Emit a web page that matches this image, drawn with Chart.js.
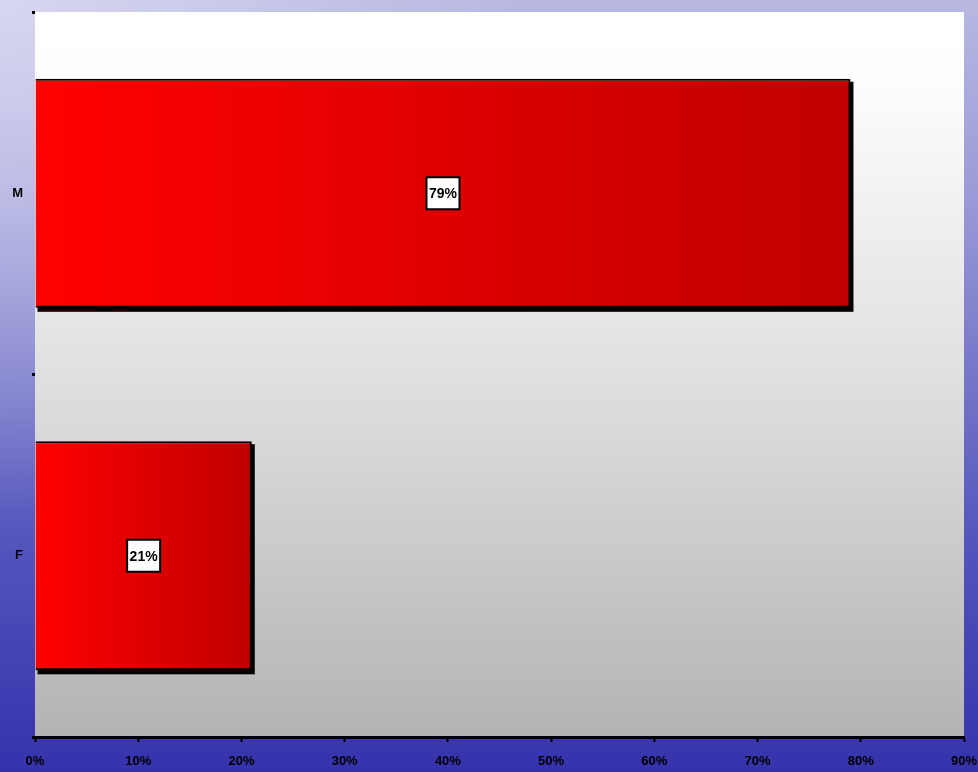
<!DOCTYPE html>
<html>
<head>
<meta charset="utf-8">
<title>M / F</title>
<script src="https://cdn.jsdelivr.net/npm/chart.js@4/dist/chart.umd.min.js"></script>
<style>
  html, body { margin: 0; padding: 0; }
  body {
    width: 978px; height: 772px; overflow: hidden;
    background:
      radial-gradient(ellipse 520px 520px at 0px 0px, rgba(225,225,245,0.75), rgba(225,225,245,0) 100%),
      linear-gradient(180deg, #b8b8e2 0%, #9b9bd8 25%, #7474c8 50%, #5252bc 72%, #3632ac 100%);
  }
  #wrap { position: absolute; left: 0; top: 0; width: 978px; height: 772px; }
</style>
</head>
<body>
<div id="wrap"><canvas id="chart" width="978" height="772"></canvas></div>
<script>
// Share of respondents by sex
const categories = ['M', 'F'];
const shares = [79, 21];
const tickValues = [0, 10, 20, 30, 40, 50, 60, 70, 80, 90];

const fontFamily = "'Liberation Sans Narrow', 'Liberation Sans', Arial, sans-serif";
const labelFont = "bold 14px " + fontFamily;

// Plot area background: white at the top fading to grey at the bottom
const plotBackground = {
  id: 'plotBackground',
  beforeDraw(chart) {
    const { ctx, chartArea: a } = chart;
    const g = ctx.createLinearGradient(0, a.top, 0, a.bottom);
    g.addColorStop(0, '#ffffff');
    g.addColorStop(0.08, '#fefefe');
    g.addColorStop(0.5, '#e0e0e0');
    g.addColorStop(1, '#b3b3b3');
    ctx.save();
    ctx.fillStyle = g;
    ctx.fillRect(a.left, a.top, a.right - a.left, a.bottom - a.top);
    ctx.restore();
  }
};

// Hard black drop shadow offset to the lower right of each bar
const barShadow = {
  id: 'barShadow',
  beforeDatasetsDraw(chart) {
    const ctx = chart.ctx;
    const meta = chart.getDatasetMeta(0);
    ctx.save();
    ctx.fillStyle = '#000000';
    meta.data.forEach(bar => {
      const top = bar.y - bar.height / 2;
      ctx.fillRect(bar.base + 2, top + 3, bar.x - bar.base + 1, bar.height + 1);
    });
    ctx.restore();
  }
};

// Value labels in white boxes at the centre of each bar
const valueBoxes = {
  id: 'valueBoxes',
  afterDatasetsDraw(chart) {
    const { ctx } = chart;
    const meta = chart.getDatasetMeta(0);
    ctx.save();
    ctx.font = labelFont;
    ctx.textAlign = 'center';
    ctx.textBaseline = 'middle';
    meta.data.forEach((bar, i) => {
      const cx = (bar.base + bar.x) / 2;
      const cy = bar.y;
      const w = 33, h = 32;
      ctx.fillStyle = '#ffffff';
      ctx.fillRect(cx - w / 2, cy - h / 2, w, h);
      ctx.lineWidth = 2;
      ctx.strokeStyle = '#000000';
      ctx.strokeRect(cx - w / 2, cy - h / 2, w, h);
      ctx.fillStyle = '#000000';
      ctx.fillText(shares[i] + '%', cx, cy + 1);
    });
    ctx.restore();
  }
};

function barGradient(context) {
  const chart = context.chart;
  const x = chart.scales.x;
  if (!x || !chart.chartArea) return '#ff0000';
  const v = shares[context.dataIndex];
  const x0 = x.getPixelForValue(0);
  const x1 = x.getPixelForValue(v);
  const g = chart.ctx.createLinearGradient(x0, 0, x1, 0);
  g.addColorStop(0, '#ff0000');
  g.addColorStop(1, '#c00000');
  return g;
}

// Keep the plot edges fixed regardless of tick label overhang
function noOverhang(scale) {
  scale.paddingLeft = 0;
  scale.paddingRight = 0;
  scale.paddingTop = 0;
  scale.paddingBottom = 0;
}

new Chart(document.getElementById('chart'), {
  type: 'bar',
  data: {
    labels: categories,
    datasets: [{
      data: shares,
      backgroundColor: barGradient,
      borderColor: '#000000',
      borderWidth: { top: 2, right: 2, bottom: 2, left: 0 },
      borderSkipped: false,
      categoryPercentage: 1,
      barPercentage: 0.632
    }]
  },
  options: {
    indexAxis: 'y',
    responsive: false,
    animation: false,
    layout: { padding: { top: 12, right: 14, left: 0, bottom: 0 } },
    plugins: {
      legend: { display: false },
      tooltip: { enabled: false }
    },
    scales: {
      x: {
        min: 0,
        max: 90,
        afterBuildTicks(scale) {
          scale.ticks = tickValues.map(v => ({ value: v }));
        },
        afterFit(scale) { scale.height = 35; noOverhang(scale); },
        grid: {
          drawOnChartArea: false,
          drawTicks: true,
          tickLength: 5,
          tickWidth: 2,
          tickColor: '#000000'
        },
        border: { display: true, color: '#000000', width: 3 },
        ticks: {
          padding: 12,
          color: '#000000',
          font: { family: fontFamily, size: 13, weight: 'bold' },
          callback: v => v + '%'
        }
      },
      y: {
        afterFit(scale) { scale.width = 35; noOverhang(scale); },
        grid: {
          offset: true,
          drawOnChartArea: false,
          drawTicks: true,
          tickLength: 3,
          tickWidth: 3,
          tickColor: '#000000'
        },
        border: { display: false },
        ticks: {
          padding: 9,
          color: '#000000',
          font: { family: fontFamily, size: 13, weight: 'bold' }
        }
      }
    }
  },
  plugins: [plotBackground, barShadow, valueBoxes]
});
</script>
</body>
</html>
